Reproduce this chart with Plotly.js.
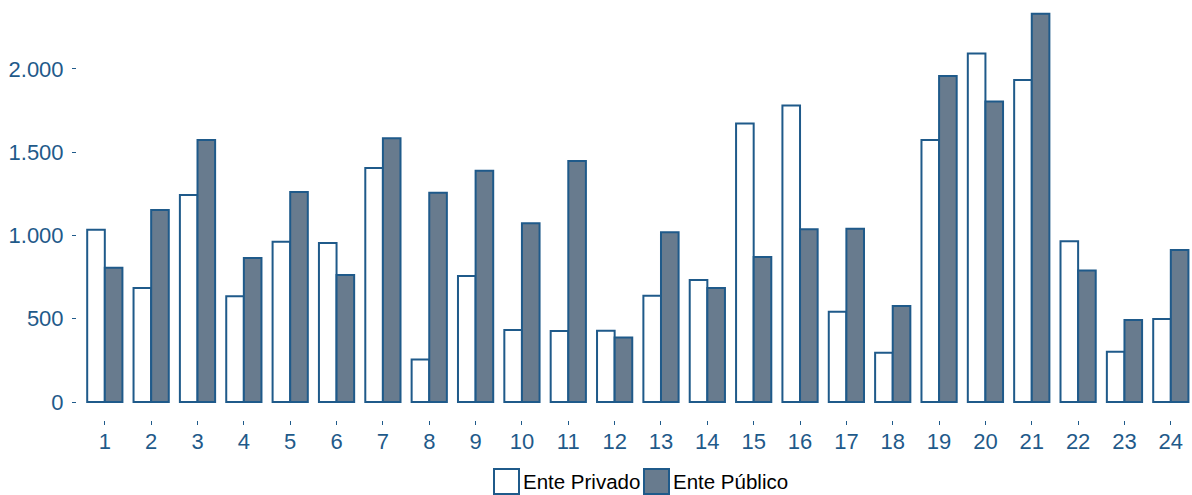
<!DOCTYPE html>
<html>
<head>
<meta charset="utf-8">
<script src="https://cdn.plot.ly/plotly-3.0.1.min.js"></script>
<style>html,body{margin:0;padding:0;background:#fff;}#chart{width:1192px;height:495px;}</style>
</head>
<body>
<div id="chart"></div>
<script>
const categories = [1,2,3,4,5,6,7,8,9,10,11,12,13,14,15,16,17,18,19,20,21,22,23,24];
const privado = [1035,685,1243,635,962,955,1405,256,757,432,426,428,638,733,1672,1780,542,296,1574,2092,1934,965,302,498];
const publico = [806,1153,1574,865,1261,763,1584,1257,1389,1073,1447,388,1019,685,871,1037,1041,577,1958,1804,2332,789,492,913];
const yTicks = [0,500,1000,1500,2000];
const seriesNames = ['Ente Privado','Ente Público'];

const lineCol = '#1f5a8a';
const textCol = '#1f5a8a';
const fills = ['#ffffff','#687b8e'];

const traces = [
  {type:'bar', name:seriesNames[0], x:categories, y:privado,
   marker:{color:fills[0], line:{color:lineCol, width:2}}},
  {type:'bar', name:seriesNames[1], x:categories, y:publico,
   marker:{color:fills[1], line:{color:lineCol, width:2}}}
];

// custom legend (pixel -> paper helpers)
const L = 77, PW = 1115, PH = 420;
const px = v => (v - L) / PW;
const py = v => (PH - v) / PH;
const legendItems = [
  {x0:494, text:seriesNames[0], fill:fills[0], tx:521},
  {x0:644, text:seriesNames[1], fill:fills[1], tx:671}
];
const shapes = legendItems.map(it => ({
  type:'rect', xref:'paper', yref:'paper',
  x0:px(it.x0), x1:px(it.x0+25), y0:py(494), y1:py(469),
  fillcolor:it.fill, line:{color:lineCol, width:2}
}));
const annotations = legendItems.map(it => ({
  xref:'paper', yref:'paper', x:px(it.tx), y:py(482), xanchor:'left', yanchor:'middle',
  text:it.text, showarrow:false, font:{size:20.5, color:'#000'}
}));

const layout = {
  width:1192, height:495,
  margin:{l:77, r:0, t:0, b:75, autoexpand:false},
  paper_bgcolor:'#fff', plot_bgcolor:'#fff',
  separators:',.',
  barmode:'group', bargap:0.24, bargroupgap:0,
  font:{family:'Liberation Sans, Arial, sans-serif', color:textCol},
  xaxis:{
    range:[0.4, 24.457], tickvals:categories, ticktext:categories.map(String),
    showgrid:false, zeroline:false, showline:false, automargin:false,
    ticks:'outside', ticklen:4, tickwidth:1, tickcolor:lineCol,
    tickfont:{size:22, color:textCol}, ticklabelstandoff:-2
  },
  yaxis:{
    range:[-108, 2414], tickvals:yTicks, tickformat:',d',
    showgrid:false, zeroline:false, showline:false, automargin:false,
    ticks:'outside', ticklen:4, tickwidth:1, tickcolor:lineCol,
    tickfont:{size:22, color:textCol}, ticklabelstandoff:4
  },
  showlegend:false,
  shapes:shapes,
  annotations:annotations
};

Plotly.newPlot('chart', traces, layout, {displayModeBar:false, staticPlot:true});
</script>
</body>
</html>
